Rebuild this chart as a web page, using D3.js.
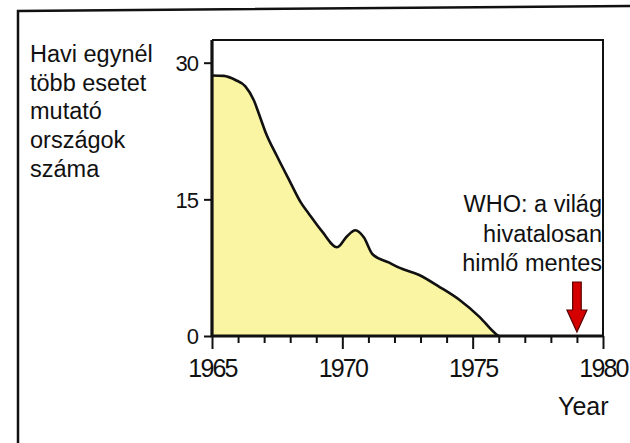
<!DOCTYPE html>
<html>
<head>
<meta charset="utf-8">
<script src="https://cdn.jsdelivr.net/npm/d3@7"></script>
<style>
  body { margin: 0; background: #fff; }
  svg text { font-family: "Liberation Sans", Arial, sans-serif; fill: #111; }
</style>
</head>
<body>
<div id="chart"></div>
<script>
// values
var years  = [1965, 1965.45, 1965.9, 1966.28, 1966.6, 1966.86, 1967.05, 1967.5, 1968.0, 1968.4, 1968.72, 1969.23, 1969.8, 1970.19, 1970.5, 1970.83, 1971.15, 1971.8, 1972.18, 1972.95, 1973.72, 1974.5, 1975.26, 1975.9, 1976];
var counts = [28.6, 28.55, 28.1, 27.4, 25.9, 23.9, 22.4, 19.7, 16.9, 14.7, 13.4, 11.45, 9.74, 10.98, 11.6, 10.8, 9.0, 8.05, 7.5, 6.7, 5.4, 3.95, 2.1, 0.2, 0];
var yTicks = [0, 15, 30];
var xMajor = [1965, 1970, 1975, 1980];
var xMinor = [1966, 1967, 1968, 1969, 1971, 1972, 1973, 1974, 1976, 1977, 1978, 1979];
var labelLines = ["Havi egynél", "több esetet", "mutató", "országok", "száma"];
var noteLines = ["WHO: a világ", "hivatalosan", "himlő mentes"];
var arrowYear = 1979;

var w = 630, h = 443;
var pLeft = 212, pRight = 603, pTop = 40, pBottom = 336;

var svg = d3.select("#chart").append("svg")
    .attr("width", w)
    .attr("height", h);

var x = d3.scaleLinear().domain([1965, 1980]).range([pLeft, pRight]);
var y = d3.scaleLinear().domain([0, 30]).range([pBottom, 62.7]);

var data = years.map(function (d, i) { return {year: d, v: counts[i]}; });

// outer frame (scan is slightly tilted)
svg.append("path")
    .attr("d", "M18,443 L18,11 L630,6")
    .attr("fill", "none")
    .attr("stroke", "#111")
    .attr("stroke-width", 2.5);

// area
var area = d3.area()
    .x(function (d) { return x(d.year); })
    .y0(y(0))
    .y1(function (d) { return y(d.v); })
    .curve(d3.curveMonotoneX);

svg.append("path")
    .datum(data)
    .attr("d", area)
    .attr("fill", "#faf5a2");

var line = d3.line()
    .x(function (d) { return x(d.year); })
    .y(function (d) { return y(d.v); })
    .curve(d3.curveMonotoneX);

svg.append("path")
    .datum(data)
    .attr("d", line)
    .attr("fill", "none")
    .attr("stroke", "#111")
    .attr("stroke-width", 2.6);

// plot frame: thin top/right, heavy left/bottom
svg.append("path")
    .attr("d", "M" + pLeft + "," + pTop + " L" + pRight + "," + pTop + " L" + pRight + "," + pBottom)
    .attr("fill", "none")
    .attr("stroke", "#111")
    .attr("stroke-width", 2);

svg.append("path")
    .attr("d", "M" + pLeft + "," + pTop + " L" + pLeft + "," + pBottom + " L" + pRight + "," + pBottom)
    .attr("fill", "none")
    .attr("stroke", "#111")
    .attr("stroke-width", 3.2);

// x axis: minor and major ticks
var xMinorAxis = d3.axisBottom(x).tickValues(xMinor).tickSize(7).tickFormat("");
var xMajorAxis = d3.axisBottom(x).tickValues(xMajor).tickSize(13).tickFormat(d3.format("d"));

var gMinor = svg.append("g").attr("transform", "translate(0," + pBottom + ")").call(xMinorAxis);
var gMajor = svg.append("g").attr("transform", "translate(0," + pBottom + ")").call(xMajorAxis);
[gMinor, gMajor].forEach(function (g) {
    g.select(".domain").remove();
    g.selectAll("line").attr("stroke", "#111").attr("stroke-width", 2);
});
gMajor.selectAll("text")
    .attr("y", 41)
    .attr("dy", 0)
    .style("font-size", "25px")
    .style("letter-spacing", "-1.8px")
    .attr("fill", "#111");

// y axis
var yAxis = d3.axisLeft(y).tickValues(yTicks).tickSize(7).tickPadding(6);
var gy = svg.append("g").attr("transform", "translate(" + (pLeft - 1) + ",0)").call(yAxis);
gy.select(".domain").remove();
gy.selectAll("line").attr("stroke", "#111").attr("stroke-width", 2);
gy.selectAll("text")
    .attr("dy", "0.36em")
    .style("font-size", "22px")
    .style("letter-spacing", "-1px")
    .attr("fill", "#111");

// axis title
svg.append("text")
    .attr("x", 558)
    .attr("y", 415)
    .style("font-size", "25px")
    .text("Year");

// left label
svg.append("g").selectAll("text")
    .data(labelLines)
    .enter().append("text")
    .attr("x", 30)
    .attr("y", function (d, i) { return 62 + i * 28.7; })
    .style("font-size", "23.5px")
    .text(function (d) { return d; });

// WHO note
svg.append("g").selectAll("text")
    .data(noteLines)
    .enter().append("text")
    .attr("x", pRight - 1)
    .attr("y", function (d, i) { return 212 + i * 29.5; })
    .attr("text-anchor", "end")
    .style("font-size", "23.5px")
    .text(function (d) { return d; });

// red arrow pointing at 1979
var ax = x(arrowYear);
var tipY = y(0) - 4, headY = tipY - 22, tailY = tipY - 50;
svg.append("path")
    .attr("d", "M" + (ax - 4.3) + "," + tailY +
               " L" + (ax + 4.3) + "," + tailY +
               " L" + (ax + 4.3) + "," + headY +
               " L" + (ax + 10) + "," + headY +
               " L" + ax + "," + tipY +
               " L" + (ax - 10) + "," + headY +
               " L" + (ax - 4.3) + "," + headY + "Z")
    .attr("fill", "#d40000")
    .attr("stroke", "#5a0000")
    .attr("stroke-width", 1.2);
</script>
</body>
</html>
